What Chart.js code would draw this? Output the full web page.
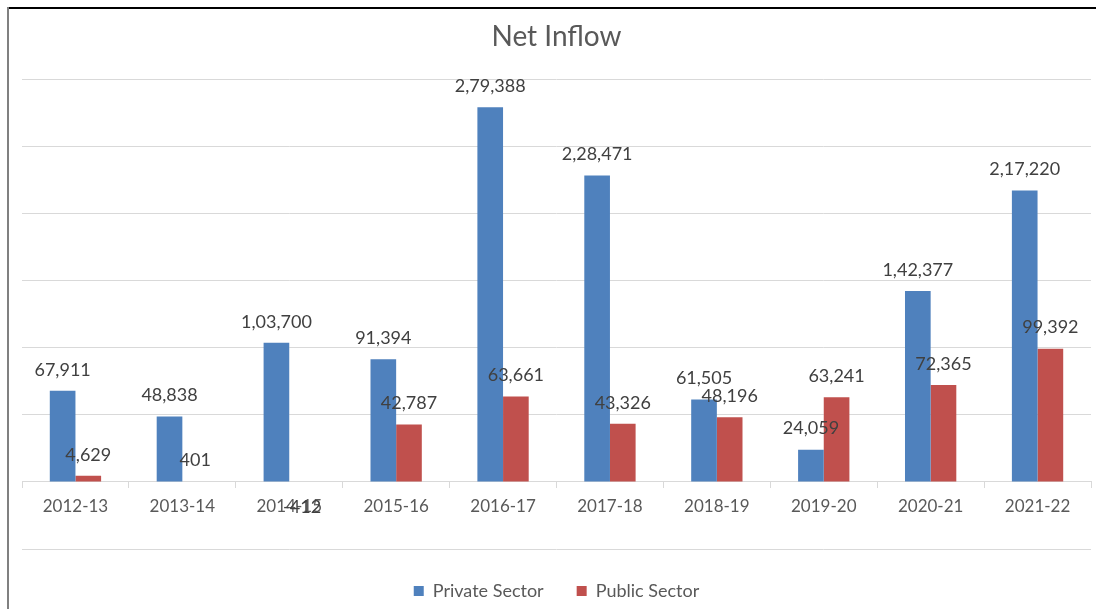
<!DOCTYPE html>
<html lang="en">
<head>
  <meta charset="UTF-8">
  <title>Net Inflow</title>
  <script src="https://cdn.jsdelivr.net/npm/chart.js"></script>
  <style>
    body { margin: 0; background: #fff; }
    #wrap { position: absolute; left: 0; top: 0; width: 1096px; height: 609px; }
    #frameTop { position: absolute; left: 7px; top: 7px; width: 1089px; height: 0; border-top: 2px solid #000; }
    #frameLeft { position: absolute; left: 7px; top: 7px; width: 0; height: 602px; border-left: 2px solid #808080; }
  </style>
</head>
<body>
  <div id="wrap"><canvas id="inflowChart"></canvas></div>
  <div id="frameTop"></div>
  <div id="frameLeft"></div>

  <script>
    const years = ['2012-13', '2013-14', '2014-15', '2015-16', '2016-17', '2017-18', '2018-19', '2019-20', '2020-21', '2021-22'];
    const privateSector = [67911, 48838, 103700, 91394, 279388, 228471, 61505, 24059, 142377, 217220];
    const publicSector = [4629, 401, -412, 42787, 63661, 43326, 48196, 63241, 72365, 99392];

    // indian style grouping: 2,79,388
    function formatIN(v) {
      const neg = v < 0;
      let s = String(Math.abs(v));
      if (s.length > 3) {
        let last = s.slice(-3);
        let rest = s.slice(0, -3);
        rest = rest.replace(/\B(?=(\d{2})+(?!\d))/g, ',');
        s = rest + ',' + last;
      }
      return (neg ? '-' : '') + s;
    }

    // value labels above (or below) each bar, like Excel "outside end"
    const barLabels = {
      id: 'barLabels',
      afterDatasetsDraw(chart) {
        const ctx = chart.ctx;
        ctx.save();
        ctx.font = '18px Lato';
        ctx.fillStyle = '#404040';
        ctx.textAlign = 'center';
        ctx.textBaseline = 'middle';
        chart.data.datasets.forEach((ds, i) => {
          chart.getDatasetMeta(i).data.forEach((bar, j) => {
            const v = ds.data[j];
            const y = v < 0 ? bar.y + 25 : bar.y - 21;
            ctx.fillText(formatIN(v), bar.x, y);
          });
        });
        ctx.restore();
      }
    };

    new Chart(document.getElementById('inflowChart'), {
      type: 'bar',
      data: {
        labels: years,
        datasets: [{
          label: 'Private Sector',
          data: privateSector,
          backgroundColor: '#4F81BD',
          categoryPercentage: 0.48,
          barPercentage: 1
        }, {
          label: 'Public Sector',
          data: publicSector,
          backgroundColor: '#C0504D',
          categoryPercentage: 0.48,
          barPercentage: 1
        }]
      },
      options: {
        responsive: true,
        maintainAspectRatio: false,
        animation: false,
        layout: {
          padding: { top: 20, left: 22, right: 5, bottom: -1 }
        },
        plugins: {
          title: {
            display: true,
            text: 'Net Inflow',
            color: '#595959',
            font: { family: 'Lato', size: 28, weight: 'normal' },
            padding: { top: 0, bottom: 26 }
          },
          legend: {
            position: 'bottom',
            labels: {
              color: '#595959',
              font: { family: 'Lato', size: 18 },
              boxWidth: 10,
              boxHeight: 10,
              padding: 33
            }
          },
          tooltip: { enabled: false }
        },
        scales: {
          x: {
            position: { y: 0 },
            grid: {
              drawOnChartArea: false,
              drawTicks: true,
              tickLength: 6,
              color: '#d9d9d9'
            },
            border: { display: true, color: '#d9d9d9' },
            ticks: {
              color: '#595959',
              font: { family: 'Lato', size: 17 },
              padding: 8,
              maxRotation: 0
            }
          },
          y: {
            min: -50000,
            max: 300000,
            ticks: { display: false, stepSize: 50000 },
            grid: { color: '#d9d9d9', drawTicks: false },
            border: { display: false }
          }
        }
      },
      plugins: [barLabels]
    });
  </script>
</body>
</html>
